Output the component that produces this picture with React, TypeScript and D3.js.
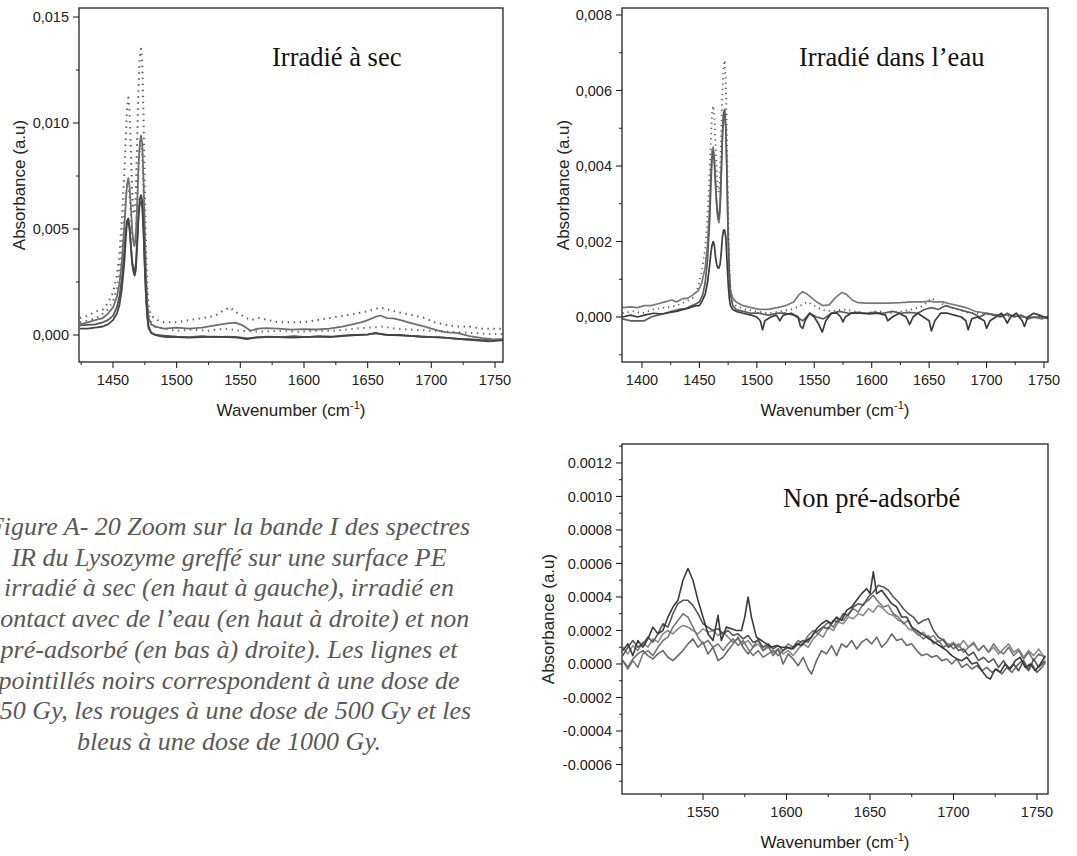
import * as d3 from "d3";

type Pt = [number, number];

// ---------- Irradié à sec (top left) : [wavenumber, absorbance] ----------
const dryA: Pt[] = [
  [1424, 0.0005], [1430, 0.0006], [1436, 0.0007], [1442, 0.0008], [1446, 0.001], [1450, 0.0013],
  [1453, 0.0018], [1455, 0.0024], [1457, 0.0035], [1459, 0.0052], [1460, 0.0062], [1461, 0.0071],
  [1462, 0.0074], [1463, 0.007], [1464, 0.0061], [1465, 0.005], [1466, 0.0044], [1467, 0.0042],
  [1468, 0.0048], [1469, 0.0062], [1470, 0.0079], [1471, 0.009], [1472, 0.0094], [1473, 0.009],
  [1474, 0.0072], [1475, 0.0048], [1476, 0.0027], [1477, 0.0014], [1478, 0.0008], [1480, 0.0005],
  [1483, 0.0004], [1490, 0.0003], [1500, 0.00035], [1510, 0.0003], [1520, 0.00035], [1530, 0.00045],
  [1540, 0.00055], [1546, 0.00058], [1552, 0.00045], [1558, 0.0002], [1564, 0.0003], [1570, 0.00032],
  [1580, 0.0003], [1590, 0.00025], [1600, 0.00028], [1610, 0.00026], [1620, 0.0003], [1630, 0.0004],
  [1638, 0.0005], [1645, 0.0006], [1650, 0.0007], [1656, 0.00085], [1660, 0.00092], [1665, 0.0008],
  [1670, 0.00078], [1676, 0.0007], [1682, 0.0006], [1688, 0.0005], [1695, 0.0004], [1700, 0.0003],
  [1706, 0.0002], [1712, 0.00012], [1720, 0.0001], [1730, -0.00005], [1740, -0.00015], [1748, -0.0002],
  [1756, -0.00022],
];
const dryB: Pt[] = [
  [1424, 0.0003], [1430, 0.0003], [1436, 0.00035], [1442, 0.0004], [1446, 0.0005], [1450, 0.0007],
  [1453, 0.001], [1455, 0.0014], [1457, 0.0022], [1459, 0.0035], [1460, 0.0045], [1461, 0.0053],
  [1462, 0.0055], [1463, 0.0051], [1464, 0.0043], [1465, 0.0034], [1466, 0.003], [1467, 0.0028],
  [1468, 0.0031], [1469, 0.0042], [1470, 0.0055], [1471, 0.0064], [1472, 0.0066], [1473, 0.0063],
  [1474, 0.005], [1475, 0.0032], [1476, 0.0018], [1477, 0.0009], [1478, 0.0004], [1480, 0.0001],
  [1483, 0.0], [1487, -0.00005], [1492, -0.0001], [1500, -0.0001], [1510, -0.00012], [1520, -0.0001],
  [1530, -0.00008], [1540, -0.0001], [1548, -0.00012], [1555, -0.0002], [1562, -0.00012], [1570, -0.0001],
  [1580, -0.0001], [1590, -0.00012], [1600, -0.0001], [1610, -0.00008], [1620, -0.0001], [1630, -0.00005],
  [1640, 0.0], [1650, 0.00002], [1656, 0.0001], [1660, 0.00005], [1666, 0.0], [1675, 0.0],
  [1685, -0.00005], [1695, -0.0001], [1705, -0.0001], [1715, -0.00015], [1725, -0.0002], [1735, -0.00025],
  [1745, -0.0003], [1756, -0.00025],
];
const dryC: Pt[] = [
  [1424, 0.00045], [1430, 0.00048], [1436, 0.0005], [1442, 0.0006], [1446, 0.0007], [1450, 0.0009],
  [1453, 0.0013], [1455, 0.0018], [1457, 0.0027], [1459, 0.0041], [1460, 0.0049], [1461, 0.0054],
  [1462, 0.0054], [1463, 0.005], [1464, 0.0042], [1465, 0.0035], [1466, 0.0031], [1467, 0.003],
  [1468, 0.0034], [1469, 0.0045], [1470, 0.0056], [1471, 0.0062], [1472, 0.0063], [1473, 0.006],
  [1474, 0.0048], [1475, 0.0031], [1476, 0.0017], [1477, 0.0008], [1478, 0.0003], [1480, 0.0001],
  [1484, 0.0], [1490, -0.00003], [1500, -0.00008], [1510, -0.0001], [1520, -0.00006], [1530, -0.0001],
  [1540, -0.00008], [1548, -0.0001], [1556, -0.00016], [1564, -0.0001], [1572, -0.00008], [1582, -0.0001],
  [1592, -0.00006], [1602, -0.0001], [1612, -0.00005], [1622, -0.00008], [1632, -0.00002], [1642, 0.0],
  [1650, 0.00003], [1657, 0.00008], [1663, 0.00002], [1670, 0.0], [1680, -0.00003], [1690, -0.00006],
  [1700, -0.0001], [1710, -0.00012], [1720, -0.00018], [1730, -0.0002], [1740, -0.00024], [1750, -0.00022],
  [1756, -0.0002],
];
const dryDotA: Pt[] = [
  [1424, 0.0008], [1430, 0.0009], [1436, 0.0011], [1442, 0.0012], [1446, 0.0015], [1450, 0.002],
  [1453, 0.0028], [1455, 0.0037], [1457, 0.0055], [1459, 0.0078], [1460, 0.0093], [1461, 0.0107],
  [1462, 0.0112], [1463, 0.0105], [1464, 0.0088], [1465, 0.0068], [1466, 0.0058], [1467, 0.0057],
  [1468, 0.0068], [1469, 0.0092], [1470, 0.0116], [1471, 0.0131], [1472, 0.0135], [1473, 0.0128],
  [1474, 0.0103], [1475, 0.0068], [1476, 0.004], [1477, 0.0022], [1478, 0.0013], [1480, 0.0009],
  [1485, 0.0007], [1490, 0.0006], [1500, 0.0006], [1510, 0.0007], [1520, 0.0008], [1530, 0.0009],
  [1538, 0.0012], [1542, 0.0013], [1546, 0.0011], [1552, 0.0009], [1558, 0.0007], [1565, 0.0008],
  [1572, 0.0007], [1580, 0.0006], [1590, 0.0006], [1600, 0.0006], [1610, 0.0007], [1620, 0.0008],
  [1630, 0.0009], [1640, 0.001], [1648, 0.0011], [1655, 0.0012], [1660, 0.0013], [1666, 0.0012],
  [1672, 0.0011], [1680, 0.001], [1688, 0.0009], [1695, 0.0008], [1702, 0.0006], [1710, 0.0005],
  [1720, 0.0004], [1730, 0.0004], [1740, 0.0003], [1750, 0.0003], [1756, 0.0003],
];
const dryDotB: Pt[] = [
  [1424, 0.0006], [1432, 0.0007], [1440, 0.0009], [1446, 0.0012], [1450, 0.0016], [1453, 0.0022],
  [1455, 0.003], [1457, 0.0042], [1459, 0.0058], [1460, 0.0066], [1461, 0.007], [1462, 0.007],
  [1463, 0.0066], [1464, 0.0057], [1465, 0.0048], [1466, 0.0043], [1467, 0.0042], [1468, 0.0048],
  [1469, 0.0062], [1470, 0.0078], [1471, 0.0088], [1472, 0.009], [1473, 0.0085], [1474, 0.0068],
  [1475, 0.0045], [1476, 0.0026], [1477, 0.0014], [1479, 0.0007], [1483, 0.0004], [1490, 0.0003],
  [1500, 0.0002], [1512, 0.00025], [1525, 0.0002], [1538, 0.0003], [1550, 0.0002], [1565, 0.00015],
  [1580, 0.0002], [1595, 0.00015], [1610, 0.0002], [1625, 0.0002], [1640, 0.0003], [1652, 0.00035],
  [1662, 0.0004], [1672, 0.0003], [1685, 0.00025], [1700, 0.0002], [1715, 0.00015], [1730, 0.0001],
  [1745, 0.00005], [1756, 0.00005],
];

// ---------- Irradié dans l'eau (top right) ----------
const waterA: Pt[] = [
  [1383, 0.00025], [1390, 0.00027], [1396, 0.00025], [1402, 0.0003], [1408, 0.0003], [1414, 0.00035],
  [1420, 0.0004], [1426, 0.00045], [1430, 0.0004], [1435, 0.00048], [1440, 0.0005], [1445, 0.0006],
  [1449, 0.0007], [1452, 0.0009], [1455, 0.0013], [1457, 0.0019], [1459, 0.003], [1460, 0.0038],
  [1461, 0.0044], [1462, 0.0045], [1463, 0.0042], [1464, 0.0036], [1465, 0.003], [1466, 0.0026],
  [1467, 0.0025], [1468, 0.0028], [1469, 0.0037], [1470, 0.0047], [1471, 0.0053], [1472, 0.0054],
  [1473, 0.005], [1474, 0.0038], [1475, 0.0022], [1476, 0.0012], [1477, 0.0007], [1479, 0.0005],
  [1482, 0.0004], [1488, 0.0003], [1495, 0.00025], [1502, 0.0002], [1510, 0.0002], [1518, 0.00025],
  [1525, 0.0003], [1532, 0.0004], [1537, 0.0006], [1540, 0.00067], [1544, 0.0006], [1548, 0.0005],
  [1552, 0.0004], [1558, 0.0003], [1563, 0.00032], [1568, 0.0005], [1574, 0.00065], [1578, 0.0006],
  [1583, 0.00045], [1588, 0.00038], [1595, 0.00037], [1605, 0.00037], [1615, 0.00037], [1625, 0.00038],
  [1635, 0.0004], [1645, 0.0004], [1650, 0.00042], [1655, 0.0004], [1662, 0.0004], [1668, 0.00035],
  [1675, 0.0003], [1682, 0.00025], [1690, 0.00015], [1700, 0.0001], [1710, 0.00005], [1720, 0.00005],
  [1730, 0.0], [1740, 0.0], [1748, -0.00005], [1754, 0.0],
];
const waterB: Pt[] = [
  [1383, 0.0], [1390, 0.00005], [1396, 0.0], [1402, 0.00005], [1410, 0.0001], [1418, 0.00008],
  [1424, 0.00012], [1430, 0.00015], [1436, 0.0002], [1442, 0.00025], [1447, 0.0003], [1450, 0.0003],
  [1452, 0.0004], [1455, 0.0006], [1457, 0.0009], [1459, 0.0014], [1460, 0.0017], [1461, 0.0019],
  [1462, 0.002], [1463, 0.0019], [1464, 0.0016], [1465, 0.0014], [1466, 0.0013], [1467, 0.0013],
  [1468, 0.0014], [1469, 0.0017], [1470, 0.0021], [1471, 0.0023], [1472, 0.0023], [1473, 0.0021],
  [1474, 0.0015], [1475, 0.0009], [1476, 0.0005], [1477, 0.0003], [1479, 0.0002], [1482, 0.00015],
  [1488, 0.0001], [1495, 0.00005], [1500, 0.0], [1503, -0.0001], [1505, -0.00034], [1507, -0.0001],
  [1512, 0.0], [1517, 0.00005], [1520, -0.0001], [1523, 0.00005], [1530, 0.0001], [1536, 0.0],
  [1538, -0.00025], [1540, -0.0003], [1542, -0.0001], [1546, 0.0001], [1550, 0.0], [1554, -0.0002],
  [1557, -0.0004], [1560, -0.0001], [1565, 0.0001], [1570, 0.0001], [1573, 0.0], [1575, -0.00013],
  [1577, 0.0], [1582, 0.0001], [1590, 0.0001], [1598, 0.00008], [1605, 0.0001], [1612, 0.00005],
  [1614, -0.0001], [1618, 0.0], [1624, 0.0001], [1630, 0.0], [1633, -0.0002], [1636, 0.0],
  [1640, 0.0001], [1645, 0.0], [1650, -0.0001], [1652, -0.00037], [1655, -0.0001], [1660, 0.0001],
  [1666, 0.0001], [1672, 0.00005], [1678, 0.0], [1682, -0.0001], [1684, -0.00034], [1687, -0.00005],
  [1692, 0.0], [1698, -0.0001], [1700, -0.0003], [1703, -0.0001], [1708, 0.0], [1713, 0.0001],
  [1716, -0.00005], [1718, -0.00016], [1721, 0.0], [1726, 0.0001], [1731, -0.0001], [1733, -0.00025],
  [1736, 0.0], [1741, 0.0001], [1746, 0.00005], [1750, 0.0], [1754, 0.0],
];
const waterC: Pt[] = [
  [1383, -0.00005], [1390, -0.0001], [1396, -0.0001], [1402, -0.0001], [1408, 0.0], [1414, 0.00005],
  [1420, 0.0001], [1426, 0.00015], [1432, 0.0002], [1438, 0.00022], [1443, 0.0003], [1447, 0.00035],
  [1450, 0.0004], [1453, 0.0006], [1455, 0.0009], [1457, 0.0015], [1459, 0.0026], [1460, 0.0035],
  [1461, 0.0042], [1462, 0.0044], [1463, 0.0041], [1464, 0.0035], [1465, 0.003], [1466, 0.0027],
  [1467, 0.0026], [1468, 0.003], [1469, 0.0039], [1470, 0.0048], [1471, 0.0054], [1472, 0.0055],
  [1473, 0.005], [1474, 0.0037], [1475, 0.0021], [1476, 0.0011], [1477, 0.0006], [1479, 0.0003],
  [1482, 0.0002], [1488, 0.00015], [1495, 0.0001], [1502, 0.0001], [1510, 0.00005], [1518, 0.0001],
  [1525, 0.0001], [1532, 0.00005], [1540, -0.0001], [1546, 0.0001], [1552, 0.0], [1558, -0.00005],
  [1565, 0.0001], [1572, 0.00015], [1580, 0.0001], [1588, 0.00012], [1595, 0.0001], [1602, 0.00012],
  [1610, 0.0001], [1618, 0.00015], [1625, 0.0001], [1632, 0.00012], [1640, 0.0001], [1646, 0.0002],
  [1652, 0.00025], [1658, 0.0002], [1664, 0.0003], [1670, 0.00025], [1676, 0.0002], [1682, 0.00015],
  [1688, 0.0001], [1694, 0.0], [1700, 0.0001], [1706, 0.00005], [1712, 0.0], [1718, 0.0001],
  [1724, 0.0], [1730, 0.00005], [1736, -0.00005], [1742, 0.0], [1748, 0.0], [1754, -0.00005],
];
const waterDot: Pt[] = [
  [1383, 0.0001], [1392, 0.00015], [1400, 0.0001], [1410, 0.0002], [1420, 0.00025], [1430, 0.0003],
  [1438, 0.0004], [1444, 0.0005], [1449, 0.0008], [1452, 0.0012], [1455, 0.0018], [1457, 0.0026],
  [1459, 0.0039], [1460, 0.0047], [1461, 0.0054], [1462, 0.0056], [1463, 0.0053], [1464, 0.0046],
  [1465, 0.0039], [1466, 0.0034], [1467, 0.0033], [1468, 0.0038], [1469, 0.0049], [1470, 0.006],
  [1471, 0.0066], [1472, 0.0068], [1473, 0.0062], [1474, 0.0047], [1475, 0.0028], [1476, 0.0015],
  [1477, 0.0008], [1479, 0.0004], [1482, 0.0003], [1490, 0.0002], [1500, 0.00015], [1510, 0.0001],
  [1520, 0.00015], [1530, 0.0002], [1538, 0.0003], [1544, 0.0004], [1550, 0.0003], [1556, 0.0002],
  [1565, 0.00015], [1575, 0.0002], [1585, 0.00015], [1595, 0.0001], [1605, 0.00015], [1615, 0.0001],
  [1625, 0.00015], [1635, 0.0002], [1645, 0.0003], [1652, 0.0005], [1658, 0.0004], [1665, 0.0003],
  [1675, 0.0002], [1685, 0.0001], [1695, 0.0001], [1705, 0.00005], [1715, 0.0], [1725, 0.00005],
  [1735, 0.0], [1745, 0.0], [1754, 0.0],
];

// ---------- Non pré-adsorbé (bottom) ----------
const nonA: Pt[] = [
  [1502, 0.00008], [1505, 0.00012], [1508, 0.00005], [1511, 0.00014], [1514, 0.0001], [1517, 0.00015],
  [1520, 0.00022], [1523, 0.00018], [1526, 0.0002], [1529, 0.00028], [1532, 0.00034], [1535, 0.00038],
  [1538, 0.0005], [1541, 0.00057], [1544, 0.0005], [1547, 0.00038], [1550, 0.00028], [1553, 0.00018],
  [1556, 0.00014], [1559, 0.00029], [1561, 0.00014], [1564, 0.00022], [1567, 0.00021], [1570, 0.0002],
  [1573, 0.0002], [1575, 0.00028], [1577, 0.0004], [1579, 0.00028], [1582, 0.00016], [1585, 0.00014],
  [1588, 0.00012], [1591, 0.0001], [1594, 0.00011], [1597, 0.0001], [1600, 0.0001], [1603, 0.00009],
  [1606, 0.00012], [1609, 0.00011], [1612, 0.00014], [1615, 0.00016], [1618, 0.00021], [1621, 0.00024],
  [1624, 0.00026], [1627, 0.00024], [1630, 0.00028], [1633, 0.00026], [1636, 0.00032], [1639, 0.00034],
  [1642, 0.00038], [1645, 0.00042], [1648, 0.00045], [1650, 0.00042], [1652, 0.00055], [1654, 0.00042],
  [1657, 0.00044], [1660, 0.0004], [1663, 0.00036], [1666, 0.00034], [1669, 0.00028], [1672, 0.00028],
  [1675, 0.00022], [1678, 0.0002], [1681, 0.00018], [1684, 0.00016], [1687, 0.00014], [1690, 0.00012],
  [1693, 0.0001], [1696, 0.00008], [1699, 0.00005], [1702, 0.00003], [1705, 0.00002], [1708, 0.00004],
  [1711, 0.0], [1714, 0.00001], [1717, -0.00004], [1720, -0.00008], [1722, -0.00009], [1725, -0.00003],
  [1728, -0.00005], [1731, 0.0], [1734, -0.00003], [1737, 0.00002], [1740, 0.00004], [1743, -0.00002],
  [1746, 0.0], [1749, -0.00004], [1752, 0.0], [1755, 0.00005],
];
const nonB: Pt[] = [
  [1502, 0.00005], [1505, 0.0001], [1508, 0.00014], [1511, 0.0001], [1514, 0.00012], [1517, 0.00016],
  [1520, 0.00013], [1523, 0.00018], [1526, 0.00024], [1529, 0.00022], [1532, 0.0003], [1535, 0.00036],
  [1538, 0.00038], [1541, 0.00038], [1544, 0.00035], [1547, 0.0003], [1550, 0.00024], [1553, 0.00022],
  [1556, 0.0002], [1559, 0.00021], [1562, 0.00018], [1565, 0.0002], [1568, 0.00017], [1571, 0.00018],
  [1574, 0.00015], [1577, 0.00017], [1580, 0.00013], [1583, 0.00014], [1586, 0.0001], [1589, 0.00012],
  [1592, 0.00009], [1595, 0.00011], [1598, 0.00008], [1601, 0.0001], [1604, 0.00009], [1607, 0.00012],
  [1610, 0.00014], [1613, 0.00013], [1616, 0.00018], [1619, 0.0002], [1622, 0.00022], [1625, 0.00021],
  [1628, 0.00026], [1631, 0.00025], [1634, 0.0003], [1637, 0.00029], [1640, 0.00034], [1643, 0.00036],
  [1646, 0.00035], [1649, 0.0004], [1652, 0.00043], [1655, 0.00047], [1658, 0.00046], [1661, 0.00044],
  [1664, 0.0004], [1667, 0.00037], [1670, 0.00033], [1673, 0.0003], [1676, 0.00028], [1679, 0.00024],
  [1682, 0.00026], [1685, 0.00027], [1688, 0.0002], [1691, 0.00016], [1694, 0.00014], [1697, 0.0001],
  [1700, 0.00012], [1703, 0.00008], [1706, 0.00009], [1709, 0.00005], [1712, 0.00007], [1715, 0.00002],
  [1718, 0.00004], [1721, 0.00001], [1724, 0.00003], [1727, -0.00002], [1730, 0.00002], [1733, -0.00003],
  [1736, 0.0], [1739, -0.00004], [1742, 0.00002], [1745, -0.00004], [1748, 0.00003], [1751, -0.00002],
  [1755, 0.00002],
];
const nonC: Pt[] = [
  [1502, 0.00002], [1505, -0.00003], [1508, 0.00002], [1511, -0.00002], [1514, 0.00006], [1517, 0.00008],
  [1520, 0.00005], [1523, 0.0001], [1526, 0.00014], [1529, 0.00016], [1532, 0.00022], [1535, 0.00026],
  [1538, 0.0003], [1541, 0.00028], [1544, 0.00022], [1547, 0.00016], [1550, 0.00012], [1553, 0.00014],
  [1556, 0.0001], [1559, 0.00012], [1562, 0.00008], [1565, 0.00012], [1568, 0.00015], [1571, 0.00011],
  [1574, 0.00014], [1577, 0.00009], [1580, 0.00005], [1583, 0.00008], [1586, 0.00004], [1589, 0.00006],
  [1592, 0.00008], [1595, 0.00005], [1598, 0.00008], [1601, 0.00012], [1604, 0.0001], [1607, 0.00014],
  [1610, 0.00012], [1613, 0.00017], [1616, 0.0002], [1619, 0.00018], [1622, 0.00022], [1625, 0.00025],
  [1628, 0.00022], [1631, 0.00027], [1634, 0.00026], [1637, 0.0003], [1640, 0.00033], [1643, 0.00031],
  [1646, 0.00036], [1649, 0.00038], [1652, 0.00041], [1655, 0.00037], [1658, 0.00034], [1661, 0.00035],
  [1664, 0.0003], [1667, 0.00028], [1670, 0.00024], [1673, 0.00026], [1676, 0.0002], [1679, 0.00018],
  [1682, 0.00015], [1685, 0.00017], [1688, 0.00012], [1691, 0.00014], [1694, 0.0001], [1697, 0.00012],
  [1700, 0.00009], [1703, 0.00012], [1706, 0.00007], [1709, 0.0001], [1712, 0.00013], [1715, 0.00008],
  [1718, 0.00011], [1721, 0.00007], [1724, 0.00012], [1727, 0.00008], [1730, 0.00006], [1733, 0.0001],
  [1736, 0.00005], [1739, 0.00008], [1742, 0.00003], [1745, 0.00007], [1748, 0.00002], [1751, 0.00006],
  [1755, 0.00004],
];
const nonD: Pt[] = [
  [1502, 0.0001], [1505, 0.00006], [1508, 0.00011], [1511, 0.00008], [1514, 0.00013], [1517, 0.0001],
  [1520, 0.00015], [1523, 0.00013], [1526, 0.00018], [1529, 0.0002], [1532, 0.00018], [1535, 0.00021],
  [1538, 0.00023], [1541, 0.00022], [1544, 0.0002], [1547, 0.00018], [1550, 0.00021], [1553, 0.00019],
  [1556, 0.0002], [1559, 0.00017], [1562, 0.00019], [1565, 0.00016], [1568, 0.00013], [1571, 0.00015],
  [1574, 0.00012], [1577, 0.00014], [1580, 0.0001], [1583, 0.00012], [1586, 0.00008], [1589, 0.0001],
  [1592, 0.00007], [1595, 0.00009], [1598, 0.00006], [1601, 0.00008], [1604, 0.00005], [1607, 0.00009],
  [1610, 0.00012], [1613, 0.0001], [1616, 0.00015], [1619, 0.00018], [1622, 0.00016], [1625, 0.00022],
  [1628, 0.0002], [1631, 0.00025], [1634, 0.00024], [1637, 0.00028], [1640, 0.00027], [1643, 0.0003],
  [1646, 0.00029], [1649, 0.00033], [1652, 0.00031], [1655, 0.00035], [1658, 0.00033], [1661, 0.0003],
  [1664, 0.00029], [1667, 0.00026], [1670, 0.00025], [1673, 0.00021], [1676, 0.0002], [1679, 0.00017],
  [1682, 0.00019], [1685, 0.00015], [1688, 0.00017], [1691, 0.00013], [1694, 0.00015], [1697, 0.00011],
  [1700, 0.00013], [1703, 0.0001], [1706, 0.00014], [1709, 0.0001], [1712, 0.00012], [1715, 0.00008],
  [1718, 0.00011], [1721, 0.00007], [1724, 0.0001], [1727, 0.00006], [1730, 0.00009], [1733, 0.00012],
  [1736, 0.00007], [1739, 0.00009], [1742, 0.00004], [1745, 0.00008], [1748, 0.00005], [1751, 0.00009],
  [1755, 0.00003],
];
const nonE: Pt[] = [
  [1502, 0.00002], [1505, -0.00002], [1508, 0.00003], [1511, 0.00006], [1514, 0.00008], [1517, 0.00005],
  [1520, 0.00003], [1523, 0.00006], [1526, 0.00008], [1529, 0.00004], [1532, 0.00002], [1535, 0.00005],
  [1538, 0.00008], [1541, 0.00012], [1544, 0.00015], [1547, 0.0001], [1550, 0.00013], [1553, 0.00006],
  [1556, 0.0001], [1559, 0.00002], [1562, 0.00004], [1565, 0.00008], [1568, 0.00012], [1571, 0.00016],
  [1574, 0.0001], [1577, 0.00006], [1580, 0.0001], [1583, 0.00015], [1586, 0.00008], [1589, 0.00011],
  [1592, 0.00005], [1595, 0.00009], [1598, 0.0], [1601, 0.00006], [1604, 0.00003], [1607, -0.00001],
  [1610, 0.00004], [1613, -0.00003], [1615, -0.00006], [1618, 0.00002], [1621, 0.00008], [1624, 0.00006],
  [1627, 0.00011], [1630, 0.00005], [1633, 0.00012], [1636, 0.0001], [1639, 0.00014], [1642, 0.00009],
  [1645, 0.00013], [1648, 0.00015], [1651, 0.00012], [1654, 0.00016], [1657, 0.0001], [1660, 0.00013],
  [1663, 0.00018], [1666, 0.00014], [1669, 0.00015], [1672, 0.00011], [1675, 0.00012], [1678, 0.00008],
  [1681, 0.00005], [1684, 0.00006], [1687, 0.00004], [1690, 0.00005], [1693, 0.00002], [1696, 0.00003],
  [1699, 0.0], [1702, 0.00003], [1705, -0.00002], [1708, 0.0], [1711, -0.00003], [1714, -0.00001],
  [1717, -0.00004], [1720, -0.00002], [1723, -0.00005], [1726, -0.00003], [1729, -0.00006], [1732, -0.00002],
  [1735, -0.00005], [1738, -0.00001], [1741, 0.00002], [1744, -0.00003], [1747, 0.0], [1750, -0.00005],
  [1753, -0.00002], [1755, 0.00001],
];

// ---------- axes ----------
const dryXTicks = [1450, 1500, 1550, 1600, 1650, 1700, 1750];
const dryYTicks = [0, 0.005, 0.01, 0.015];
const waterXTicks = [1400, 1450, 1500, 1550, 1600, 1650, 1700, 1750];
const waterYTicks = [0, 0.002, 0.004, 0.006, 0.008];
const nonXTicks = [1550, 1600, 1650, 1700, 1750];
const nonYTicks = [-0.0006, -0.0004, -0.0002, 0, 0.0002, 0.0004, 0.0006, 0.0008, 0.001, 0.0012];

const captionLines = [
  "Figure A- 20 Zoom sur la bande I des spectres",
  "IR du Lysozyme greffé sur une surface PE",
  "irradié à sec (en haut à gauche), irradié en",
  "contact avec de l’eau (en haut à droite) et non",
  "pré-adsorbé (en bas à) droite). Les lignes et",
  "pointillés noirs correspondent à une dose de",
  "250 Gy, les rouges à une dose de 500 Gy et les",
  "bleus à une dose de 1000 Gy.",
];

const SANS = "'Liberation Sans', Arial, sans-serif";
const SERIF = "'Liberation Serif', 'Times New Roman', serif";
const INK = "#222";

type Series = { data: Pt[]; color: string; width: number; dash?: string };

const fmtComma = (d: number) => d3.format(".3f")(d).replace(".", ",").replace("−", "-");
const fmtDot = (d: number) => d3.format(".4f")(d).replace("−", "-");

function minorTicks(domain: [number, number], step: number, major: number[]) {
  const lo = Math.ceil(domain[0] / step - 1e-9);
  const hi = Math.floor(domain[1] / step + 1e-9);
  return d3
    .range(lo, hi + 1)
    .map(i => i * step)
    .filter(v => !major.some(m => Math.abs(m - v) < step * 1e-3));
}

function Panel({
  id,
  left,
  right,
  top,
  bottom,
  xDomain,
  yDomain,
  xTicks,
  xMinorStep,
  yTicks,
  yMinorStep,
  yFormat,
  series,
  title,
  titleX,
  titleY,
  yTitleX,
}: {
  id: string;
  left: number;
  right: number;
  top: number;
  bottom: number;
  xDomain: [number, number];
  yDomain: [number, number];
  xTicks: number[];
  xMinorStep: number;
  yTicks: number[];
  yMinorStep: number;
  yFormat: (d: number) => string;
  series: Series[];
  title: string;
  titleX: number;
  titleY: number;
  yTitleX: number;
}) {
  const x = d3.scaleLinear().domain(xDomain).range([left, right]);
  const y = d3.scaleLinear().domain(yDomain).range([bottom, top]);
  const line = d3
    .line<Pt>()
    .x(d => x(d[0]))
    .y(d => y(d[1]));
  const xMinor = minorTicks(xDomain, xMinorStep, xTicks);
  const yMinor = minorTicks(yDomain, yMinorStep, yTicks);
  const cx = (left + right) / 2;
  const cy = (top + bottom) / 2;
  return (
    <g>
      <defs>
        <clipPath id={id}>
          <rect x={left} y={top} width={right - left} height={bottom - top} />
        </clipPath>
      </defs>
      <g clipPath={`url(#${id})`}>
        {series.map((s, i) => (
          <path
            key={i}
            d={line(s.data) ?? undefined}
            fill="none"
            stroke={s.color}
            strokeWidth={s.width}
            strokeDasharray={s.dash}
            strokeLinejoin="round"
          />
        ))}
      </g>
      <rect x={left} y={top} width={right - left} height={bottom - top} fill="none" stroke={INK} strokeWidth={1.3} />
      {xTicks.map(t => (
        <g key={"x" + t}>
          <line x1={x(t)} x2={x(t)} y1={bottom} y2={bottom + 6} stroke={INK} strokeWidth={1.1} />
          <text x={x(t)} y={bottom + 23} textAnchor="middle" fontFamily={SANS} fontSize={14.5} fill={INK}>
            {t}
          </text>
        </g>
      ))}
      {xMinor.map(t => (
        <line key={"xm" + t} x1={x(t)} x2={x(t)} y1={bottom} y2={bottom + 3} stroke={INK} strokeWidth={1} />
      ))}
      {yTicks.map(t => (
        <g key={"y" + t}>
          <line x1={left - 6} x2={left} y1={y(t)} y2={y(t)} stroke={INK} strokeWidth={1.1} />
          <text
            x={left - 10}
            y={y(t)}
            dy="0.35em"
            textAnchor="end"
            fontFamily={SANS}
            fontSize={14.5}
            fill={INK}
          >
            {yFormat(t)}
          </text>
        </g>
      ))}
      {yMinor.map(t => (
        <line key={"ym" + t} x1={left - 3} x2={left} y1={y(t)} y2={y(t)} stroke={INK} strokeWidth={1} />
      ))}
      <text x={cx} y={bottom + 54} textAnchor="middle" fontFamily={SANS} fontSize={17} fill={INK}>
        Wavenumber (cm
        <tspan dy={-7} fontSize={11}>
          -1
        </tspan>
        <tspan dy={7}>)</tspan>
      </text>
      <text
        transform={`translate(${yTitleX},${cy}) rotate(-90)`}
        textAnchor="middle"
        dy="0.35em"
        fontFamily={SANS}
        fontSize={17}
        fill={INK}
      >
        Absorbance (a.u)
      </text>
      <text x={titleX} y={titleY} fontFamily={SERIF} fontSize={26.5} fill="#111">
        {title}
      </text>
    </g>
  );
}

export default function App() {
  const drySeries: Series[] = [
    { data: dryDotB, color: "#6a6a6a", width: 2, dash: "1.4 4.6" },
    { data: dryDotA, color: "#5a5a5a", width: 2, dash: "1.4 4.6" },
    { data: dryC, color: "#555", width: 1.8 },
    { data: dryA, color: "#6e6e6e", width: 1.8 },
    { data: dryB, color: "#444", width: 1.8 },
  ];
  const waterSeries: Series[] = [
    { data: waterDot, color: "#5a5a5a", width: 1.8, dash: "1.2 4" },
    { data: waterA, color: "#7a7a7a", width: 1.7 },
    { data: waterC, color: "#5c5c5c", width: 1.7 },
    { data: waterB, color: "#3c3c3c", width: 1.7 },
  ];
  const nonSeries: Series[] = [
    { data: nonD, color: "#8a8a8a", width: 1.6 },
    { data: nonC, color: "#777", width: 1.6 },
    { data: nonE, color: "#6a6a6a", width: 1.6 },
    { data: nonB, color: "#555", width: 1.6 },
    { data: nonA, color: "#3a3a3a", width: 1.6 },
  ];
  return (
    <svg
      width={1077}
      height={856}
      style={{ position: "absolute", left: 0, top: 0, display: "block", background: "#fff" }}
    >
      <Panel
        id="clip-dry"
        left={79}
        right={503}
        top={8}
        bottom={362}
        xDomain={[1423.3, 1756.3]}
        yDomain={[-0.001274, 0.015425]}
        xTicks={dryXTicks}
        xMinorStep={25}
        yTicks={dryYTicks}
        yMinorStep={0.0025}
        yFormat={fmtComma}
        series={drySeries}
        title="Irradié à sec"
        titleX={272}
        titleY={66}
        yTitleX={19}
      />
      <Panel
        id="clip-water"
        left={622}
        right={1048}
        top={8}
        bottom={362}
        xDomain={[1382.6, 1753.5]}
        yDomain={[-0.001192, 0.008185]}
        xTicks={waterXTicks}
        xMinorStep={25}
        yTicks={waterYTicks}
        yMinorStep={0.001}
        yFormat={fmtComma}
        series={waterSeries}
        title="Irradié dans l’eau"
        titleX={799}
        titleY={66}
        yTitleX={563}
      />
      <Panel
        id="clip-non"
        left={622}
        right={1048}
        top={444}
        bottom={794}
        xDomain={[1501.5, 1756.6]}
        yDomain={[-0.000776, 0.001313]}
        xTicks={nonXTicks}
        xMinorStep={25}
        yTicks={nonYTicks}
        yMinorStep={0.0001}
        yFormat={fmtDot}
        series={nonSeries}
        title="Non pré-adsorbé"
        titleX={783}
        titleY={507}
        yTitleX={548}
      />
      <g fontFamily={SERIF} fontStyle="italic" fontSize={26} fill="#595959" textAnchor="middle">
        {captionLines.map((l, i) => (
          <text key={i} x={229} y={535 + i * 30.7}>
            {l}
          </text>
        ))}
      </g>
    </svg>
  );
}
